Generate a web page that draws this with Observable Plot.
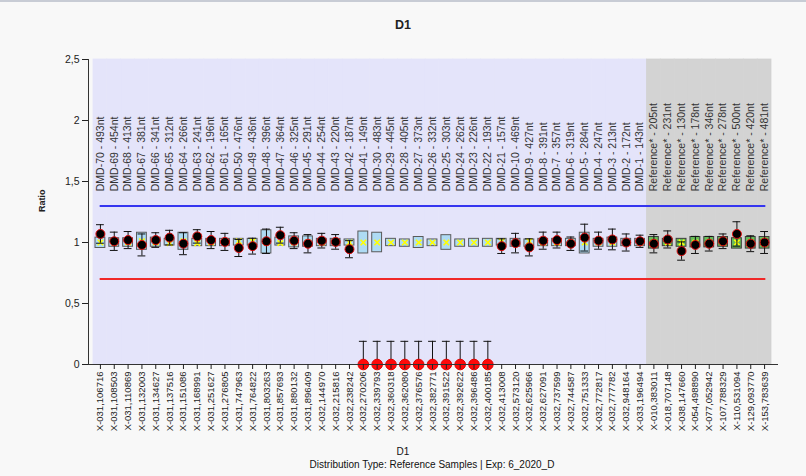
<!DOCTYPE html>
<html>
<head>
<meta charset="utf-8">
<script src="https://cdn.jsdelivr.net/npm/d3@7"></script>
<script src="https://cdn.jsdelivr.net/npm/@observablehq/plot@0.6"></script>
<style>
  html, body { margin: 0; padding: 0; background: #f8f8f8; }
  #page {
    width: 806px; height: 476px; position: relative; overflow: hidden;
    border-top: 2px solid #c8ccd5; box-sizing: border-box;
    font-family: "Liberation Sans", Arial, sans-serif; color: #222;
  }
  #title {
    height: 38px; box-sizing: border-box; padding-top: 16px;
    text-align: center; font-weight: bold; font-size: 12.5px; line-height: 14px;
  }
  #chart { height: 400px; }
  #chart svg { display: block; }
  #caption { text-align: center; line-height: 13px; padding-top: 5px; color: #111; }
  #caption .name { font-size: 10px; }
  #caption .sub { font-size: 10px; padding-left: 58px; }
</style>
</head>
<body>
<div id="page">
  <div id="title">D1</div>
  <div id="chart"></div>
  <div id="caption">
    <div class="name">D1</div>
    <div class="sub">Distribution Type: Reference Samples | Exp: 6_2020_D</div>
  </div>
</div>
<script>
// Sample identifiers along the x axis
const sampleIds = [
  "X-031,106716", "X-031,108503", "X-031,110869", "X-031,132003", "X-031,134627",
  "X-031,137516", "X-031,151086", "X-031,168991", "X-031,251627", "X-031,276805",
  "X-031,747963", "X-031,764822", "X-031,803263", "X-031,857693", "X-031,880132",
  "X-031,896409", "X-032,144970", "X-032,215816", "X-032,238242", "X-032,270206",
  "X-032,339793", "X-032,360318", "X-032,362080", "X-032,376576", "X-032,382771",
  "X-032,391522", "X-032,392622", "X-032,396486", "X-032,400185", "X-032,413008",
  "X-032,573120", "X-032,625966", "X-032,627091", "X-032,737599", "X-032,744587",
  "X-032,751333", "X-032,772817", "X-032,777782", "X-032,948164", "X-033,196494",
  "X-010,383011", "X-018,707148", "X-038,147660", "X-054,498890", "X-077,052942",
  "X-107,788329", "X-110,531094", "X-129,093770", "X-153,783639"
];

// Probe names printed above each sample
const probeNames = [
  "DMD-70 - 493nt", "DMD-69 - 454nt", "DMD-68 - 413nt", "DMD-67 - 381nt", "DMD-66 - 341nt",
  "DMD-65 - 312nt", "DMD-64 - 266nt", "DMD-63 - 241nt", "DMD-62 - 196nt", "DMD-61 - 165nt",
  "DMD-50 - 476nt", "DMD-49 - 436nt", "DMD-48 - 396nt", "DMD-47 - 364nt", "DMD-46 - 325nt",
  "DMD-45 - 291nt", "DMD-44 - 254nt", "DMD-43 - 220nt", "DMD-42 - 187nt", "DMD-41 - 149nt",
  "DMD-30 - 483nt", "DMD-29 - 445nt", "DMD-28 - 405nt", "DMD-27 - 373nt", "DMD-26 - 332nt",
  "DMD-25 - 303nt", "DMD-24 - 262nt", "DMD-23 - 226nt", "DMD-22 - 193nt", "DMD-21 - 157nt",
  "DMD-10 - 469nt", "DMD-9 - 427nt", "DMD-8 - 391nt", "DMD-7 - 357nt", "DMD-6 - 319nt",
  "DMD-5 - 284nt", "DMD-4 - 247nt", "DMD-3 - 213nt", "DMD-2 - 172nt", "DMD-1 - 143nt",
  "Reference* - 205nt", "Reference* - 231nt", "Reference* - 130nt", "Reference* - 178nt",
  "Reference* - 346nt", "Reference* - 278nt", "Reference* - 500nt", "Reference* - 420nt",
  "Reference* - 481nt"
];

// Probe group: "DMD" target probes or "REF" reference probes
const probeGroups = [
  ...Array(40).fill("DMD"),
  ...Array(9).fill("REF")
];

// Sample ratio (dot) and its standard deviation (error bar half-width)
const ratios = [
  1.07, 1.01, 1.02, 0.98, 1.02, 1.04, 0.99, 1.05, 1.02, 1.005,
  0.955, 0.97, 1.01, 1.06, 1.015, 0.99, 1.015, 1.005, 0.945, 0,
  0, 0, 0, 0, 0, 0, 0, 0, 0, 0.97,
  0.995, 0.96, 1.015, 1.02, 0.99, 1.04, 1.015, 1.025, 1.0, 1.01,
  0.99, 1.025, 0.93, 0.98, 0.99, 1.01, 1.07, 0.99, 1.0
];
const ratioSd = [
  0.076, 0.075, 0.07, 0.09, 0.06, 0.06, 0.09, 0.055, 0.07, 0.07,
  0.07, 0.065, 0.10, 0.065, 0.065, 0.075, 0.06, 0.06, 0.07, 0.19,
  0.19, 0.19, 0.19, 0.19, 0.19, 0.19, 0.19, 0.19, 0.19, 0.06,
  0.08, 0.07, 0.07, 0.065, 0.055, 0.11, 0.07, 0.085, 0.07, 0.05,
  0.075, 0.07, 0.075, 0.07, 0.06, 0.06, 0.10, 0.065, 0.09
];

// Reference distribution per probe: box low, box high and median
const boxLow = [
  0.955, 0.965, 0.965, 0.94, 0.965, 0.975, 0.94, 0.97, 0.97, 0.97,
  0.975, 0.975, 0.91, 0.975, 0.96, 0.965, 0.97, 0.97, 0.975, 0.91,
  0.92, 0.97, 0.965, 0.955, 0.97, 0.94, 0.965, 0.965, 0.965, 0.975,
  0.965, 0.965, 0.97, 0.97, 0.97, 0.91, 0.965, 0.965, 0.97, 0.97,
  0.95, 0.97, 0.965, 0.96, 0.96, 0.965, 0.95, 0.95, 0.95
];
const boxHigh = [
  1.04, 1.035, 1.035, 1.08, 1.04, 1.03, 1.08, 1.03, 1.03, 1.03,
  1.03, 1.03, 1.10, 1.04, 1.05, 1.05, 1.03, 1.03, 1.025, 1.09,
  1.08, 1.03, 1.025, 1.045, 1.025, 1.06, 1.025, 1.03, 1.03, 1.03,
  1.03, 1.025, 1.03, 1.03, 1.03, 1.08, 1.03, 1.04, 1.03, 1.03,
  1.045, 1.03, 1.03, 1.045, 1.045, 1.045, 1.035, 1.045, 1.045
];
const boxMedian = [
  1.0, 1.0, 1.0, 1.01, 1.0, 0.995, 1.01, 0.995, 1.0, 1.0,
  1.01, 1.01, 1.0, 0.995, 1.0, 1.0, 1.0, 1.0, 1.0, 1.0,
  1.0, 1.0, 1.0, 1.0, 1.0, 1.0, 1.0, 1.0, 1.0, 1.01,
  1.0, 1.01, 1.0, 1.0, 1.0, 1.0, 1.0, 1.0, 1.0, 1.0,
  1.0, 1.0, 1.0, 1.0, 1.0, 1.0, 1.0, 1.0, 1.0
];

// Decision thresholds
const upperThreshold = 1.3;
const lowerThreshold = 0.7;

// Y axis ticks
const yTicks = [0, 0.5, 1, 1.5, 2, 2.5];
const yMax = 2.5;
// Height (in ratio units) at which probe names start
const probeLabelLevel = 1.42;

const rows = sampleIds.map((id, i) => ({
  id,
  probe: probeNames[i],
  group: probeGroups[i],
  ratio: ratios[i],
  sd: ratioSd[i],
  lo: boxLow[i],
  hi: boxHigh[i],
  med: boxMedian[i]
}));

const dmdRows = rows.filter(d => d.group === "DMD");
const refRows = rows.filter(d => d.group === "REF");
const okRows = rows.filter(d => d.ratio > 0);
const failRows = rows.filter(d => d.ratio === 0);

const errLow = d => Math.max(0, d.ratio - d.sd);
const errHigh = d => d.ratio + d.sd;

const chart = Plot.plot({
  width: 806,
  height: 400,
  marginTop: 19,
  marginBottom: 76,
  marginLeft: 88,
  marginRight: 29,
  style: {
    background: "transparent",
    fontFamily: "Liberation Sans, Arial, sans-serif",
    fontSize: "9.5px",
    color: "#222"
  },
  x: { domain: sampleIds, range: [93, 771], padding: 0, label: null },
  y: { domain: [0, yMax], label: null },
  marks: [
    // group backgrounds
    Plot.barY(dmdRows, { x: "id", y1: 0, y2: yMax, fill: "#e4e4fa", stroke: "#e4e4fa", strokeWidth: 0.8, inset: 0 }),
    Plot.barY(refRows, { x: "id", y1: 0, y2: yMax, fill: "#d3d3d3", stroke: "#d3d3d3", strokeWidth: 0.8, inset: 0 }),

    // thresholds
    Plot.lineY(sampleIds, { x: d => d, y: () => upperThreshold, stroke: "#3535f0", strokeWidth: 2 }),
    Plot.lineY(sampleIds, { x: d => d, y: () => lowerThreshold, stroke: "#f02828", strokeWidth: 2 }),

    // probe names
    Plot.text(rows, {
      x: "id", y: () => probeLabelLevel, text: "probe", rotate: -90,
      textAnchor: "start", fontSize: 10.5, fill: "#333"
    }),

    // reference distribution boxes
    Plot.barY(dmdRows, { x: "id", y1: "lo", y2: "hi", fill: "#aedbf4", stroke: "#5a5a5a", strokeWidth: 1, insetLeft: 2, insetRight: 2 }),
    Plot.barY(refRows, { x: "id", y1: "lo", y2: "hi", fill: "#66bb5a", stroke: "#3d3d3d", strokeWidth: 1, insetLeft: 2, insetRight: 2 }),
    Plot.dot(rows, { x: "id", y: "med", symbol: "times", r: 2.6, stroke: "#ffff00", strokeWidth: 1.6 }),

    // error bars
    Plot.ruleX(rows, { x: "id", y1: errLow, y2: errHigh, stroke: "#111", strokeWidth: 1 }),
    Plot.tickY(rows, { x: "id", y: errHigh, stroke: "#111", strokeWidth: 1, insetLeft: 3, insetRight: 3 }),
    Plot.tickY(okRows, { x: "id", y: errLow, stroke: "#111", strokeWidth: 1, insetLeft: 3, insetRight: 3 }),

    // sample ratios
    Plot.dot(okRows, { x: "id", y: "ratio", r: 4.5, fill: "#000", stroke: "#e01010", strokeWidth: 1 }),
    Plot.dot(failRows, { x: "id", y: "ratio", r: 5.3, fill: "#ff0a0a", stroke: "#e00000", strokeWidth: 1 }),

    // axes
    Plot.frame({ anchor: "left", stroke: "#333" }),
    Plot.frame({ anchor: "bottom", stroke: "#333" }),
    Plot.axisY({
      ticks: yTicks, tickSize: 6, tickPadding: 3, fontSize: 10.5,
      tickFormat: d => String(d).replace(".", ","), label: null
    }),
    Plot.axisX({ tickRotate: -90, tickSize: 5, tickPadding: 2, fontSize: 9.5, label: null }),
    Plot.text(["Ratio"], { frameAnchor: "left", dx: -46, rotate: -90, fontSize: 9, fontWeight: "bold", fill: "#222" })
  ]
});

document.getElementById("chart").appendChild(chart);
</script>
</body>
</html>
